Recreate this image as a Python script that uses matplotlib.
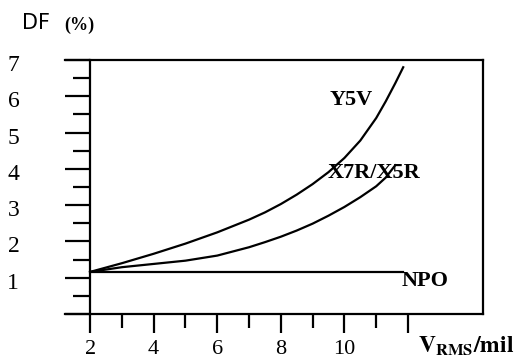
import matplotlib
matplotlib.use("Agg")
import matplotlib.pyplot as plt
from matplotlib.transforms import ScaledTranslation

# --- data ---
y5v_x = [2, 3, 4, 5, 6, 7, 7.5, 8, 8.5, 9, 9.5, 10, 10.5, 11, 11.3, 11.6, 11.85]
y5v_y = [1.16, 1.40, 1.66, 1.94, 2.25, 2.60, 2.80, 3.03, 3.29, 3.58, 3.91, 4.30,
         4.78, 5.40, 5.86, 6.36, 6.80]

x7r_x = [2, 3, 4, 5, 6, 7, 7.5, 8, 8.5, 9, 9.5, 10, 10.5, 11, 11.3, 11.6]
x7r_y = [1.16, 1.29, 1.38, 1.47, 1.61, 1.84, 1.98, 2.13, 2.30, 2.49, 2.71, 2.95,
         3.22, 3.52, 3.76, 4.10]

npo_x = [2, 11.85]
npo_y = [1.16, 1.16]

x_major = [2, 4, 6, 8, 10, 12]
x_labels = ["2", "4", "6", "8", "10", ""]
x_minor = [3, 5, 7, 9, 11]
y_major = [0, 1, 2, 3, 4, 5, 6, 7]
y_labels = ["", "1", "2", "3", "4", "5", "6", "7"]
y_minor = [0.5, 1.5, 2.5, 3.5, 4.5, 5.5, 6.5]

plt.rcParams["mathtext.fontset"] = "stix"
serif = "Liberation Serif"

fig = plt.figure(figsize=(5.16, 3.63), dpi=100)
ax = fig.add_axes([65 / 516, 49 / 363, 418 / 516, 254 / 363])

lw = 1.6
ax.plot(y5v_x, y5v_y, color="black", lw=lw)
ax.plot(x7r_x, x7r_y, color="black", lw=lw)
ax.plot(npo_x, npo_y, color="black", lw=lw)

ax.set_xlim(1.21, 14.36)
ax.set_ylim(0, 7)

# spines: y axis sits on x = 2, box closed top and right
for s in ax.spines.values():
    s.set_linewidth(1.6)
ax.spines["left"].set_position(("data", 2))

ax.set_xticks(x_major)
ax.set_xticklabels(x_labels, fontfamily=serif, fontsize=16)
ax.set_xticks(x_minor, minor=True)
ax.set_yticks(y_major)
ax.set_yticklabels(y_labels, fontfamily=serif, fontsize=17)
ax.set_yticks(y_minor, minor=True)

ax.tick_params(axis="x", which="major", direction="out", length=14, width=1.6, pad=5)
ax.tick_params(axis="x", which="minor", direction="out", length=10, width=1.6)
ax.tick_params(axis="y", which="major", direction="out", length=18, width=1.6, pad=33)
ax.tick_params(axis="y", which="minor", direction="out", length=12, width=1.6)

# y labels sit a little below their ticks in the original
shift = ScaledTranslation(0, -0.03, fig.dpi_scale_trans)
for lab in ax.get_yticklabels():
    lab.set_transform(lab.get_transform() + shift)

# curve labels
lbl = dict(fontfamily=serif, fontweight="bold", fontsize=16, ha="center", va="center")
ax.text(10.21, 5.91, "Y5V", **lbl)
ax.text(10.93, 3.88, "X7R/X5R", **lbl)
ax.text(12.53, 0.92, "NPO", **lbl)

ax.text(12.31, -1.07, r"$\mathbf{V_{RMS}/mil}$", fontsize=17, ha="left",
        va="baseline", clip_on=False)

fig.text(22 / 516, 1 - 23 / 363, "DF", fontfamily="DejaVu Sans", fontsize=15,
         ha="left", va="center")
fig.text(64 / 516, 1 - 25 / 363, "(%)", fontfamily=serif, fontweight="bold",
         fontsize=13, ha="left", va="center")

fig.savefig("out.png", dpi=100)
